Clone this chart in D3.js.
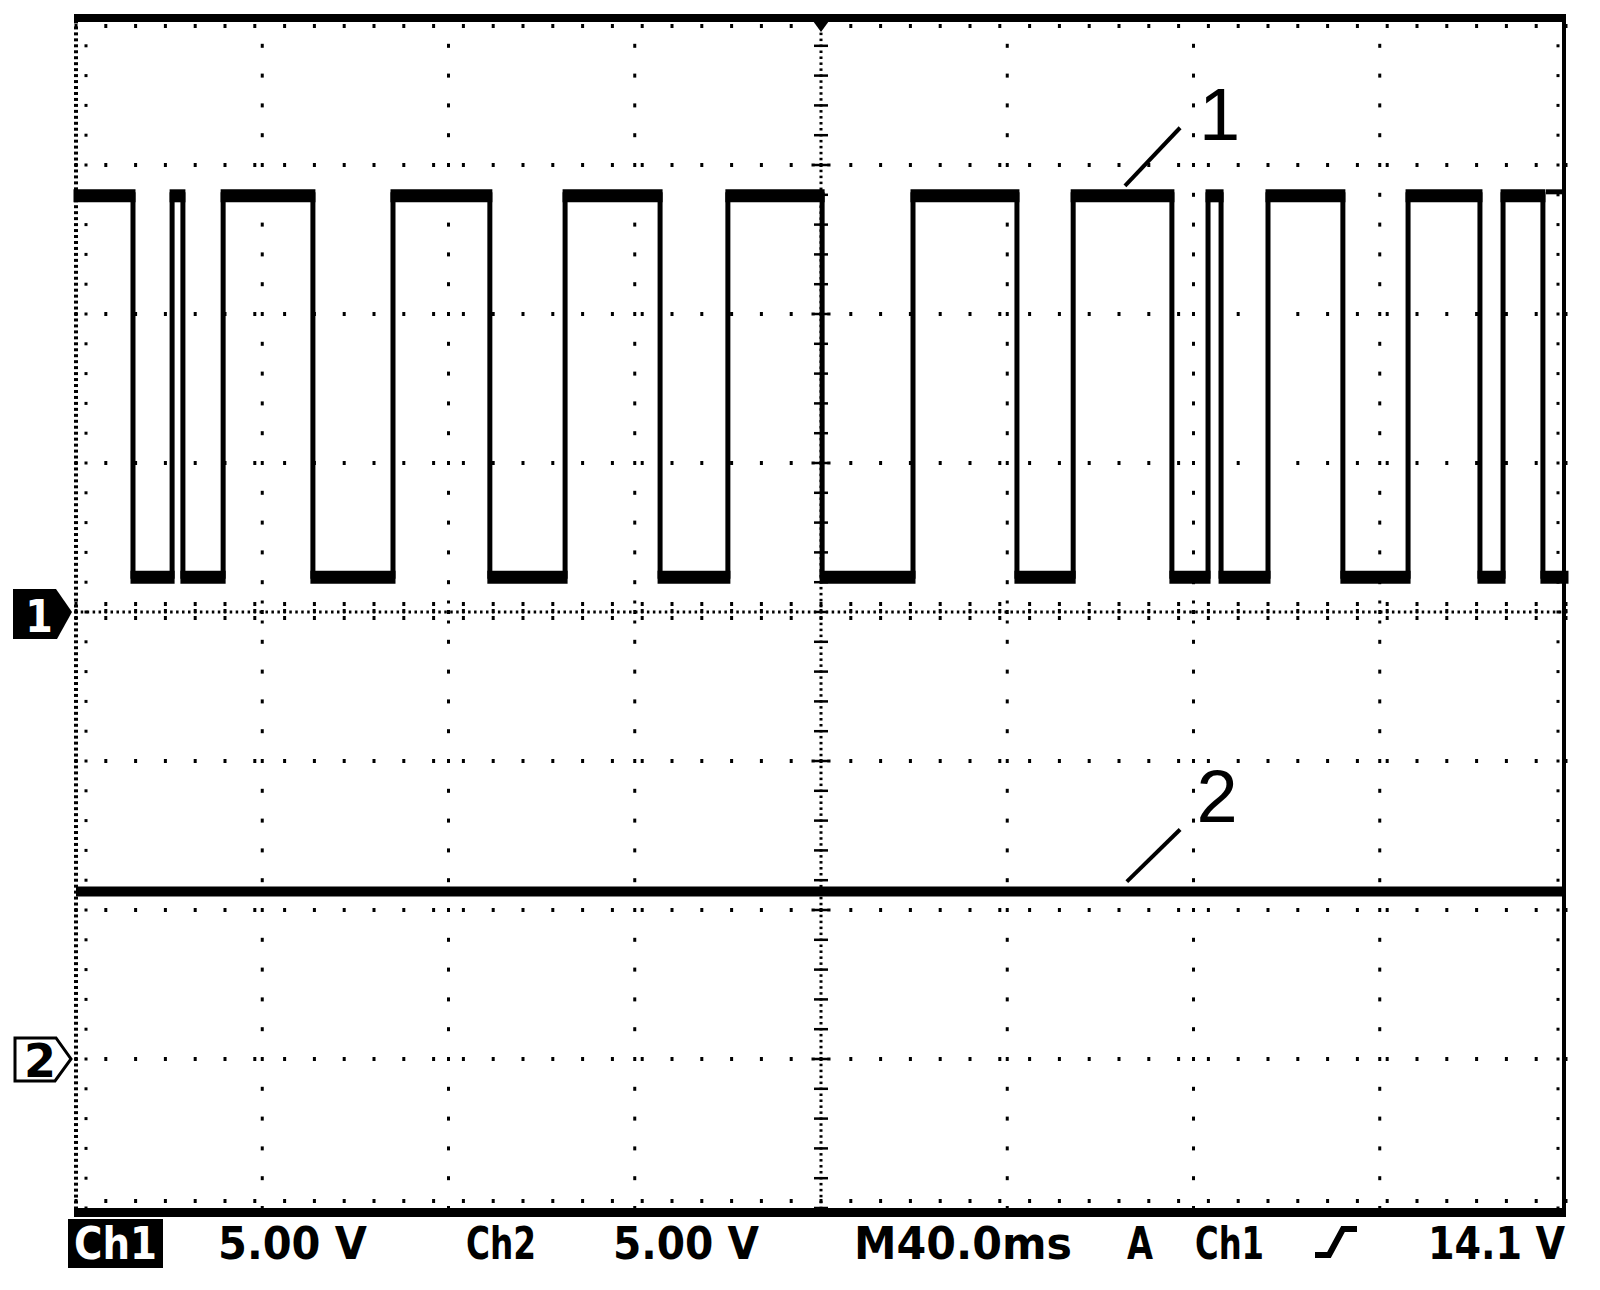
<!DOCTYPE html>
<html><head><meta charset="utf-8">
<script src="https://cdn.jsdelivr.net/npm/d3@7"></script>
<style>html,body{margin:0;padding:0;background:#fff;} svg{display:block}</style>
</head><body>
<script>
// ---------------- data ----------------
const timeDomainMs = [0, 400];      // 10 div x 40 ms/div
const ch1VoltDomain = [-20, 20];    // 8 div x 5 V/div, Ch1 ground at centre
const ch2VoltDomain = [-5, 35];     // Ch2 ground 3 div below centre
const ch1SegStartMs = [0, 15.3, 25.8, 28.7, 39.5, 63.6, 85.1, 111.1, 131.3, 156.8, 175.0, 200.3,
                       224.7, 252.6, 267.7, 294.2, 303.9, 307.4, 320.0, 340.1, 357.6, 376.9, 383.1, 393.8];
const ch1SegVolt = [14.0, 1.2, 14.0, 1.2, 14.0, 1.2, 14.0, 1.2, 14.0, 1.2, 14.0, 1.2,
                    14.0, 1.2, 14.0, 1.2, 14.0, 1.2, 14.0, 1.2, 14.0, 1.2, 14.0, 1.2];
const ch2TimeMs = [0, 400];
const ch2Volt = [5.62, 5.62];
const triggerTimeMs = 200;
const triggerLevelV = 14.1;
const statusTexts = ["5.00 V", "Ch2", "5.00 V", "M40.0ms", "A", "Ch1", "14.1 V"];
const ch1BoxText = "Ch1";
const annotLabels = ["1", "2"];
const annotFromMs = [281.6, 282.1];
const annotFromV = [14.3, 5.95];
const annotToMs = [296.4, 296.4];
const annotToV = [16.25, 7.7];
const annotTextMs = [301.5, 300.8];
const annotTextV = [15.85, 7.95];

// ---------------- layout ----------------
const W = 1600, H = 1290;
const L = 76, R = 1566, T = 16, B = 1208;
const statusX = [[218, 367], [466, 536], [613, 759], [854, 1072], [1127, 1153], [1195, 1264], [1428, 1565]];

const svg = d3.select("body").append("svg").attr("width", W).attr("height", H);
svg.append("rect").attr("width", W).attr("height", H).attr("fill", "#fff");

const x = d3.scaleLinear().domain(timeDomainMs).range([L, R]);
const y1 = d3.scaleLinear().domain(ch1VoltDomain).range([B, T]);
const y2 = d3.scaleLinear().domain(ch2VoltDomain).range([B, T]);

const majX = x.ticks(10);                          // 0..400 step 40
const minX = d3.range(0, 400.001, 8);
const denseX = d3.range(0, 400.001, 1.6);
const majY = y1.ticks(8);                          // -20..20 step 5
const minY = d3.range(-20, 20.001, 1);
const denseY = d3.range(-20, 20.001, 0.2);

const g = svg.append("g").attr("fill", "#000");
const dot = (cx, cy, w, h) => g.append("rect").attr("x", cx - w / 2).attr("y", cy - h / 2).attr("width", w).attr("height", h);

// interior vertical grid lines
majX.filter(t => t > 0 && t < 400 && t !== 200).forEach(t => {
  minY.forEach(v => dot(x(t), y1(v), 3, 4));
  dot(x(t), y1(0) - 10, 3, 3); dot(x(t), y1(0) + 10, 3, 3);
});
// interior horizontal grid lines
majY.filter(v => v > -20 && v < 20 && v !== 0).forEach(v => {
  minX.forEach(t => dot(x(t), y1(v), 3, 4));
  dot(x(200) - 8, y1(v), 3, 3); dot(x(200) + 8, y1(v), 3, 3);
});
// centre vertical axis
denseY.forEach(v => dot(x(200), y1(v), 3, 2.5));
minY.forEach(v => g.append("line").attr("x1", x(200) - 7).attr("x2", x(200) + 7)
  .attr("y1", y1(v)).attr("y2", y1(v)).attr("stroke", "#000").attr("stroke-width", 2.5));
// centre horizontal axis
denseX.forEach(t => dot(x(t), y1(0), 2.5, 3));
minX.forEach(t => g.append("line").attr("x1", x(t)).attr("x2", x(t))
  .attr("y1", y1(0) - 10).attr("y2", y1(0) + 10).attr("stroke", "#000").attr("stroke-width", 3)
  .attr("stroke-dasharray", "4,3"));
// left border (dotted) + ticks
denseY.forEach(v => dot(L, y1(v), 4, 3));
minY.forEach(v => dot(L + 10, y1(v), 3, 3));
// top / bottom / right ticks
minX.forEach(t => { dot(x(t), T + 10, 3, 4); dot(x(t), B - 7, 3, 4); });
minY.forEach(v => dot(R - 8, y1(v), 3, 3));

// ---------------- traces ----------------
const ch1Pts = ch1SegStartMs.map((t, i) => [t, ch1SegVolt[i]]);
ch1Pts.push([timeDomainMs[1], ch1SegVolt[ch1SegVolt.length - 1]]);
const line1 = d3.line().x(d => x(d[0])).y(d => y1(d[1])).curve(d3.curveStepAfter);
svg.append("path").attr("d", line1(ch1Pts)).attr("fill", "none").attr("stroke", "#000")
  .attr("stroke-width", 5).attr("stroke-linejoin", "miter");
// thicker (noisy-looking) level segments
svg.append("g").selectAll("line").data(ch1SegStartMs).join("line")
  .attr("x1", (t, i) => x(t) - 2.5)
  .attr("x2", (t, i) => x(i + 1 < ch1SegStartMs.length ? ch1SegStartMs[i + 1] : timeDomainMs[1]) + 2.5)
  .attr("y1", (t, i) => y1(ch1SegVolt[i]) + 1).attr("y2", (t, i) => y1(ch1SegVolt[i]) + 1)
  .attr("stroke", "#000").attr("stroke-width", 13);

const ch2Pts = ch2TimeMs.map((t, i) => [t, ch2Volt[i]]);
const line2 = d3.line().x(d => x(d[0])).y(d => y2(d[1]));
svg.append("path").attr("d", line2(ch2Pts)).attr("fill", "none").attr("stroke", "#000")
  .attr("stroke-width", 10);

// ---------------- frame ----------------
svg.append("rect").attr("x", L - 2).attr("y", 14).attr("width", R - L + 2).attr("height", 8).attr("fill", "#000");
svg.append("rect").attr("x", L - 2).attr("y", B).attr("width", R - L + 2).attr("height", 9).attr("fill", "#000");
svg.append("rect").attr("x", R - 4).attr("y", 14).attr("width", 4).attr("height", B + 9 - 14).attr("fill", "#000");

// trigger position marker (top)
const tx = x(triggerTimeMs);
svg.append("path").attr("d", `M${tx - 8},21 L${tx + 8},21 L${tx},32 Z`).attr("fill", "#000");
// trigger level marker (right)
svg.append("line").attr("x1", R - 20).attr("x2", R - 2).attr("y1", y1(triggerLevelV)).attr("y2", y1(triggerLevelV))
  .attr("stroke", "#000").attr("stroke-width", 5);

// ---------------- channel markers ----------------
const g1 = y1(0);
svg.append("path").attr("d", `M13,${g1 - 23} L56,${g1 - 23} L72,${g1} L57,${g1 + 27} L13,${g1 + 27} Z`).attr("fill", "#000");
svg.append("text").attr("x", 39).attr("y", g1 + 20).attr("text-anchor", "middle")
  .attr("font-family", "'DejaVu Sans Condensed', 'DejaVu Sans', sans-serif").attr("font-weight", "bold")
  .attr("font-size", 44).attr("fill", "#fff").text("1");
const g2 = y2(0);
svg.append("path").attr("d", `M15,${g2 - 21} L56,${g2 - 21} L71,${g2} L55,${g2 + 22} L15,${g2 + 22} Z`)
  .attr("fill", "#fff").attr("stroke", "#000").attr("stroke-width", 3);
svg.append("text").attr("x", 40).attr("y", g2 + 18).attr("text-anchor", "middle")
  .attr("font-family", "'DejaVu Sans', sans-serif").attr("font-weight", "bold")
  .attr("font-size", 46).attr("fill", "#000").text("2");

// ---------------- annotations ----------------
annotLabels.forEach((lab, i) => {
  const ys = i === 0 ? y1 : y2;
  svg.append("line").attr("x1", x(annotFromMs[i])).attr("y1", ys(annotFromV[i]))
    .attr("x2", x(annotToMs[i])).attr("y2", ys(annotToV[i]))
    .attr("stroke", "#000").attr("stroke-width", 4);
  svg.append("text").attr("x", x(annotTextMs[i])).attr("y", ys(annotTextV[i]))
    .attr("font-family", "'Liberation Sans', Arial, sans-serif").attr("font-size", 74)
    .attr("fill", "#000").text(lab);
});

// ---------------- status line ----------------
const baseY = 1259;
svg.append("rect").attr("x", 68).attr("y", 1219).attr("width", 95).attr("height", 49).attr("fill", "#000");
svg.append("text").attr("x", 74).attr("y", baseY).attr("textLength", 83).attr("lengthAdjust", "spacingAndGlyphs")
  .attr("font-family", "'DejaVu Sans Condensed', 'DejaVu Sans', sans-serif").attr("font-weight", "bold")
  .attr("font-size", 45).attr("fill", "#fff").text(ch1BoxText);
statusTexts.forEach((s, i) => {
  svg.append("text").attr("x", statusX[i][0]).attr("y", baseY)
    .attr("textLength", statusX[i][1] - statusX[i][0]).attr("lengthAdjust", "spacingAndGlyphs")
    .attr("font-family", "'DejaVu Sans Condensed', 'DejaVu Sans', sans-serif").attr("font-weight", "bold")
    .attr("font-size", 45).attr("fill", "#000").text(s);
});
// rising-edge trigger slope symbol
svg.append("path").attr("d", "M1315,1255 L1329,1255 L1343,1229 L1357,1229")
  .attr("fill", "none").attr("stroke", "#000").attr("stroke-width", 6).attr("stroke-linejoin", "miter");
</script>
</body></html>
